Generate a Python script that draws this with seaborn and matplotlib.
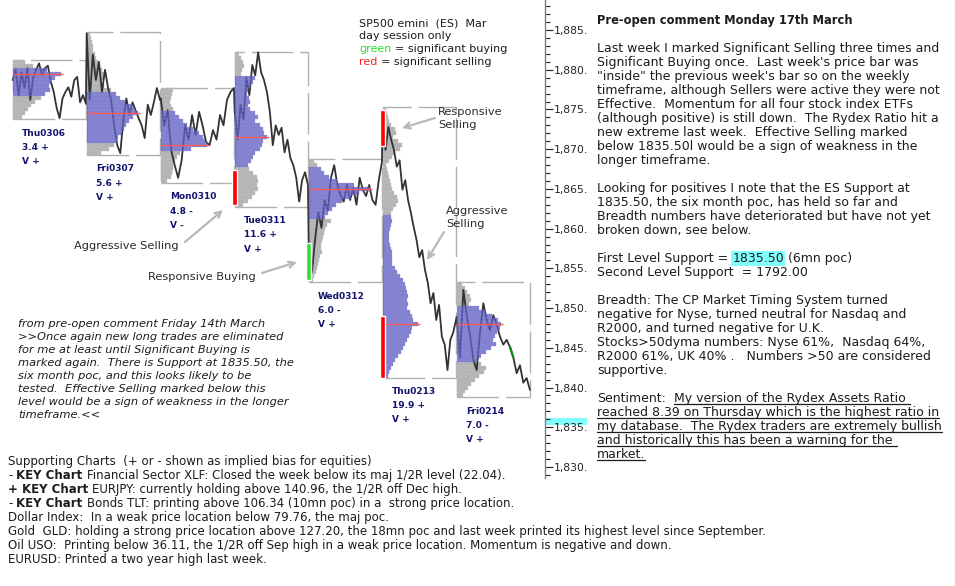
import numpy as np
import pandas as pd
import matplotlib
matplotlib.use('Agg')
import matplotlib.pyplot as plt
import matplotlib.transforms as mtrans
from matplotlib.lines import Line2D
from matplotlib.patches import Rectangle
from matplotlib.ticker import MultipleLocator, FuncFormatter
import seaborn as sns

# ---- data ----
days = ['Thu0306', 'Fri0307', 'Mon0310', 'Tue0311', 'Wed0312', 'Thu0213', 'Fri0214']
day_score = ['3.4 +', '5.6 +', '4.8 -', '11.6 +', '6.0 -', '19.9 +', '7.0 -']
day_vol = ['V +', 'V +', 'V -', 'V +', 'V +', 'V +', 'V +']

# intraday ES prices, one list per session
px_thu0306 = [1878.7, 1880.0, 1876.8, 1879.7, 1877.7, 1880.2, 1876.2, 1879.0, 1880.0, 1880.8,
              1879.3, 1880.2, 1880.5, 1878.5, 1877.2, 1875.2, 1873.9, 1876.4, 1877.2, 1877.8,
              1876.6, 1878.7, 1879.1, 1875.9, 1876.8, 1875.7]
px_fri0307 = [1884.6, 1876.2, 1881.9, 1878.7, 1881.0, 1877.2, 1880.0, 1877.7, 1876.2, 1873.0,
              1870.5, 1869.5, 1873.7, 1876.4, 1874.3, 1875.9, 1874.9, 1873.9, 1873.0, 1871.4,
              1875.6, 1874.3, 1875.9, 1877.7, 1876.2]
px_mon0310 = [1876.4, 1873.0, 1874.9, 1869.9, 1868.0, 1866.4, 1868.6, 1873.0, 1871.2, 1874.3,
              1871.8, 1874.7, 1873.0, 1870.9, 1870.5, 1872.4, 1871.2, 1874.3, 1873.0, 1876.2,
              1877.2, 1877.7]
px_tue0311 = [1874.7, 1871.2, 1875.6, 1873.7, 1879.0, 1876.8, 1880.6, 1879.3, 1882.2, 1879.7,
              1878.7, 1877.2, 1874.7, 1870.5, 1873.0, 1871.8, 1872.7, 1869.6, 1871.2, 1868.9,
              1868.0, 1866.4, 1863.4, 1866.1, 1867.1, 1865.5]
px_wed0312 = [1857.9, 1854.5, 1858.6, 1862.1, 1860.1, 1863.6, 1862.3, 1866.4, 1868.0, 1865.5,
              1864.2, 1863.4, 1865.5, 1863.6, 1865.1, 1863.0, 1866.4, 1864.9, 1864.1, 1865.5,
              1863.6, 1863.0, 1866.1, 1868.4]
px_thu0213 = [1874.6, 1869.9, 1872.8, 1871.2, 1869.9, 1867.8, 1868.6, 1864.9, 1866.1, 1863.6,
              1862.0, 1860.2, 1858.6, 1856.4, 1857.3, 1854.8, 1853.2, 1850.6, 1851.9, 1848.5,
              1850.4, 1846.4, 1845.4, 1842.2, 1846.0, 1846.9, 1848.5]
px_fri0214 = [1848.9, 1843.8, 1852.3, 1849.1, 1846.6, 1843.5, 1842.2, 1846.9, 1850.6, 1848.5,
              1847.2, 1849.1, 1847.9, 1846.4, 1845.4, 1846.0, 1845.1, 1843.8, 1841.8, 1842.8,
              1840.6, 1841.2, 1839.7]
prices = [px_thu0306, px_fri0307, px_mon0310, px_tue0311, px_wed0312, px_thu0213, px_fri0214]
fri_green = (16, 17)   # bars of the last session marked as buying

# volume profiles: highest price of each profile, then 0.5 pt rows downwards
prof_top = [1881.0, 1884.5, 1877.5, 1882.0, 1868.5, 1875.0, 1853.0]
vol_thu0306 = [12, 20, 34, 48, 42, 38, 36, 37, 32, 28, 22, 18, 15, 12, 9]
vol_fri0307 = [3, 4, 5, 6, 6, 8, 9, 11, 13, 15, 19, 17, 14, 17, 24, 29, 33, 38, 45, 47,
               51, 46, 42, 39, 37, 34, 31, 30, 27, 22, 14]
vol_mon0310 = [12, 11, 10, 9, 10, 12, 14, 18, 22, 26, 32, 38, 42, 44, 46, 30, 19, 16, 14, 12,
               12, 11, 10, 6]
vol_tue0311 = [4, 6, 8, 9, 7, 6, 20, 18, 15, 13, 12, 14, 15, 13, 15, 20, 23, 20, 25, 28,
               29, 32, 28, 27, 25, 20, 18, 16, 13, 14, 18, 22, 23, 22, 23, 20, 17, 13, 8]
vol_wed0312 = [5, 8, 12, 15, 20, 28, 45, 61, 50, 42, 33, 27, 23, 19, 16, 22, 18, 16, 15, 14,
               13, 12, 12, 13, 11, 10, 9, 8, 7, 5, 4]
vol_thu0213 = [3, 4, 5, 6, 8, 12, 13, 10, 15, 19, 17, 12, 9, 6, 3, 4, 5, 6, 7, 8,
               9, 11, 14, 15, 13, 10, 8, 8, 9, 8, 7, 6, 6, 6, 7, 8, 9, 9, 9, 9,
               12, 14, 17, 20, 22, 23, 24, 25, 24, 25, 24, 27, 29, 30, 35, 29, 28, 26, 24, 22,
               20, 18, 15, 12, 10, 8, 6, 5]
vol_fri0214 = [5, 8, 10, 13, 14, 12, 22, 28, 35, 41, 44, 43, 40, 38, 36, 39, 34, 29, 24, 20,
               24, 29, 27, 22, 18, 14, 11, 8, 6]
profiles = [vol_thu0306, vol_fri0307, vol_mon0310, vol_tue0311, vol_wed0312, vol_thu0213, vol_fri0214]
poc = [1879.5, 1874.5, 1870.5, 1871.5, 1865.0, 1848.0, 1848.0]
va_high = [1880.0, 1877.0, 1874.5, 1879.0, 1867.5, 1861.5, 1850.0]
va_low = [1877.0, 1871.0, 1870.0, 1868.0, 1861.5, 1841.5, 1843.5]

# significant selling (red) / buying (green) at session opens
sig_day = [3, 4, 5, 5]
sig_low = [1863.0, 1853.5, 1870.4, 1841.2]
sig_high = [1867.4, 1858.2, 1874.9, 1849.0]
sig_col = ['#ff0000', '#33dd33', '#ff0000', '#ff0000']

support_level = 1835.5

# ---- figure ----
sns.set_theme(style='white')
plt.rcParams['font.family'] = ['DejaVu Sans']
W, H = 955, 586
fig = plt.figure(figsize=(9.55, 5.86), dpi=100)
fig.patch.set_facecolor('white')
R = fig.canvas.get_renderer()

ax = fig.add_axes([0, 1 - 478 / H, 545 / W, 478 / H])
ax.set_facecolor('white')
vol_scale = 1 / 74.0

rows = []
for i, p in enumerate(prices):
    n = len(p)
    for k, v in enumerate(p):
        rows.append((i + 0.99 * k / (n - 1), v))
line_df = pd.DataFrame(rows, columns=['t', 'price'])
sns.lineplot(data=line_df, x='t', y='price', sort=False, estimator=None,
             color='#333333', lw=1.3, ax=ax, zorder=2)

g = line_df[line_df.index >= len(line_df) - len(px_fri0214)].iloc[fri_green[0]:fri_green[1] + 1]
ax.plot(g['t'], g['price'], color='#118811', lw=1.6, zorder=6)

for i in range(7):
    w = np.array(profiles[i], dtype=float)
    lv = prof_top[i] - 0.5 * np.arange(len(w))
    inva = (lv <= va_high[i]) & (lv >= va_low[i])
    ax.barh(lv[~inva], w[~inva] * vol_scale, left=i, height=0.5, color='#b4b4b4',
            edgecolor='#c4c4c4', linewidth=0.25, zorder=1)
    ax.barh(lv[inva], w[inva] * vol_scale, left=i, height=0.5, color='#5a5ac0', alpha=0.75,
            edgecolor='#8c8cd8', linewidth=0.25, zorder=3)
    k = int(np.argmin(np.abs(lv - poc[i])))
    ax.hlines(poc[i], i, i + (w[k] + 2) * vol_scale, color='#ff5a5a', lw=1, zorder=4)
    ax.add_patch(Rectangle((i, lv.min() - 0.25), 0.985, lv.max() - lv.min() + 0.5, fill=False,
                           ec='#b0b0b0', lw=1, ls=(0, (30, 5)), zorder=0.5))

ax.bar([d - 0.04 for d in sig_day], np.array(sig_high) - np.array(sig_low), bottom=sig_low,
       width=0.068, align='edge', color=sig_col, zorder=6)

ax.set_xlim(-12.7 / 74, (545 - 12.7) / 74)
ax.set_ylim(1828.61, 1888.78)
ax.set_xticks([])
ax.set_xlabel('')
ax.set_ylabel('')
for s in ['left', 'top', 'bottom']:
    ax.spines[s].set_visible(False)
ax.spines['right'].set_color('#808080')
ax.spines['right'].set_linewidth(1)
ax.yaxis.tick_right()
ax.yaxis.set_major_locator(MultipleLocator(5))
ax.yaxis.set_minor_locator(MultipleLocator(1))
ax.yaxis.set_major_formatter(FuncFormatter(lambda v, p: f'{v:,.0f}.'))


def text_w(s, size, weight='normal', style='normal'):
    t = fig.text(0, 0, s, fontsize=size, fontweight=weight, fontstyle=style)
    w = t.get_window_extent(renderer=R).width
    t.remove()
    return w


def fit(s, target, **kw):
    return 10 * target / text_w(s, 10, **kw)


def space_w(size, **kw):
    return text_w('x x', size, **kw) - text_w('xx', size, **kw)


def write(x, y, parts, size, color='#1c1c1c'):
    # parts drawn one after another on one baseline (y = baseline in px from top)
    for s, opt in parts:
        weight = opt.get('weight', 'normal')
        style = opt.get('style', 'normal')
        body = s.rstrip(' ')
        t = fig.text(x / W, 1 - y / H, body, fontsize=size, fontweight=weight, fontstyle=style,
                     color=opt.get('color', color), va='baseline', ha='left')
        w = t.get_window_extent(renderer=R).width if body else 0
        if 'bg' in opt:
            t.set_bbox(dict(facecolor=opt['bg'], edgecolor='none', pad=0.8))
        w_all = w + (len(s) - len(body)) * space_w(size, weight=weight, style=style)
        if opt.get('underline'):
            fig.add_artist(Line2D([x / W, (x + w_all) / W], [1 - (y + 2) / H] * 2,
                                  color=color, lw=0.9))
        x += w_all


fs_tick = fit('1,885.', 34)
ax.tick_params(axis='y', which='major', length=5.8, width=0.8, pad=0.5, labelsize=fs_tick,
               colors='#222222', right=True, left=False)
ax.tick_params(axis='y', which='minor', length=3.6, width=0.8, right=True, left=False,
               colors='#222222')
ax.add_patch(Rectangle((1.0, support_level - 0.25), 0.077, 0.85,
                       transform=mtrans.blended_transform_factory(ax.transAxes, ax.transData),
                       facecolor='#80ffff', edgecolor='none', clip_on=False, zorder=0))

# session labels under each profile box
fs_day = fit('Thu0306', 44, weight='bold')
for i in range(7):
    low = prof_top[i] - 0.5 * (len(profiles[i]) - 1) - 0.25
    for j, s in enumerate([days[i], day_score[i], day_vol[i]]):
        ax.text(i + 0.125, low - 2.05 - 1.8 * j, s, fontsize=fs_day, fontweight='bold',
                color='#14146e', va='baseline', ha='left', zorder=7)

# legend text
fs_leg = fit('green = significant buying', 148)
write(359, 26, [('SP500 emini  (ES)  Mar', {})], fs_leg)
write(359, 39, [('day session only', {})], fs_leg)
write(359, 52, [('green ', {'color': '#33dd33'}), ('= significant buying', {})], fs_leg)
write(359, 65, [('red ', {'color': '#ff2020'}), ('= significant selling', {})], fs_leg)

# annotations
fs_ann = fit('Aggressive Selling', 104)
write(74, 249, [('Aggressive Selling', {})], fs_ann, '#2a2a2a')
write(148, 280, [('Responsive Buying', {})], fs_ann, '#2a2a2a')
write(438, 115, [('Responsive', {})], fs_ann, '#2a2a2a')
write(438, 128, [('Selling', {})], fs_ann, '#2a2a2a')
write(446, 214, [('Aggressive', {})], fs_ann, '#2a2a2a')
write(446, 227, [('Selling', {})], fs_ann, '#2a2a2a')
for (x1, y1), (x2, y2) in [((185, 242), (223, 210)), ((262, 273), (297, 262)),
                           ((435, 118), (402, 128)), ((444, 232), (427, 260))]:
    ax.annotate('', xy=(x2, H - y2), xytext=(x1, H - y1), xycoords='figure pixels',
                textcoords='figure pixels', annotation_clip=False,
                arrowprops=dict(arrowstyle='->', color='#b8b8b8', lw=1.6, shrinkA=0, shrinkB=0,
                                mutation_scale=11))

# quoted comment (italic)
quote = ['from pre-open comment Friday 14th March',
         '>>Once again new long trades are eliminated',
         'for me at least until Significant Buying is',
         'marked again.  There is Support at 1835.50, the',
         'six month poc, and this looks likely to be',
         'tested.  Effective Selling marked below this',
         'level would be a sign of weakness in the longer',
         'timeframe.<<']
fs_q = fit(quote[3], 275, style='italic')
for j, s in enumerate(quote):
    write(18, 327 + 13.04 * j, [(s, {'style': 'italic'})], fs_q)

# supporting charts block
B = {'weight': 'bold'}
bottom = [[('Supporting Charts  (+ or - shown as implied bias for equities)', {})],
          [('- ', {}), ('KEY Chart ', B),
           ('Financial Sector XLF: Closed the week below its maj 1/2R level (22.04).', {})],
          [('+ KEY Chart ', B), ('EURJPY: currently holding above 140.96, the 1/2R off Dec high.', {})],
          [('- ', {}), ('KEY Chart ', B),
           ('Bonds TLT: printing above 106.34 (10mn poc) in a  strong price location.', {})],
          [('Dollar Index:  In a weak price location below 79.76, the maj poc.', {})],
          [('Gold  GLD: holding a strong price location above 127.20, the 18mn poc and last week '
            'printed its highest level since September.', {})],
          [('Oil USO:  Printing below 36.11, the 1/2R off Sep high in a weak price location. '
            'Momentum is negative and down.', {})],
          [('EURUSD: Printed a two year high last week.', {})]]
fs_b = fit(bottom[0][0][0], 360)
for j, parts in enumerate(bottom):
    write(8, 465 + 13.94 * j, parts, fs_b)

# right column comment
U = {'underline': True}
right = [[('Last week I marked Significant Selling three times and', {})],
         [("Significant Buying once.  Last week's price bar was", {})],
         [('"inside" the previous week\'s bar so on the weekly', {})],
         [('timeframe, although Sellers were active they were not', {})],
         [('Effective.  Momentum for all four stock index ETFs', {})],
         [('(although positive) is still down.  The Rydex Ratio hit a', {})],
         [('new extreme last week.  Effective Selling marked', {})],
         [('below 1835.50l would be a sign of weakness in the', {})],
         [('longer timeframe.', {})],
         [],
         [('Looking for positives I note that the ES Support at', {})],
         [('1835.50, the six month poc, has held so far and', {})],
         [('Breadth numbers have deteriorated but have not yet', {})],
         [('broken down, see below.', {})],
         [],
         [('First Level Support = ', {}), ('1835.50 ', {'bg': '#80ffff'}), ('(6mn poc)', {})],
         [('Second Level Support  = 1792.00', {})],
         [],
         [('Breadth: The CP Market Timing System turned', {})],
         [('negative for Nyse, turned neutral for Nasdaq and', {})],
         [('R2000, and turned negative for U.K.', {})],
         [('Stocks>50dyma numbers: Nyse 61%,  Nasdaq 64%,', {})],
         [('R2000 61%, UK 40% .   Numbers >50 are considered', {})],
         [('supportive.', {})],
         [],
         [('Sentiment:  ', {}), ('My version of the Rydex Assets Ratio ', U)],
         [('reached 8.39 on Thursday which is the highest ratio in', U)],
         [('my database.  The Rydex traders are extremely bullish', U)],
         [('and historically this has been a warning for the ', U)],
         [('market.', U)]]
fs_r = fit(right[0][0][0], 340)
fs_t = fit('Pre-open comment Monday 17th March', 257, weight='bold')
write(597, 24, [('Pre-open comment Monday 17th March', B)], fs_t)
for j, parts in enumerate(right):
    if parts:
        write(597, 52 + 14 * j, parts, fs_r)

fig.savefig('out.png', dpi=100, facecolor='white')
